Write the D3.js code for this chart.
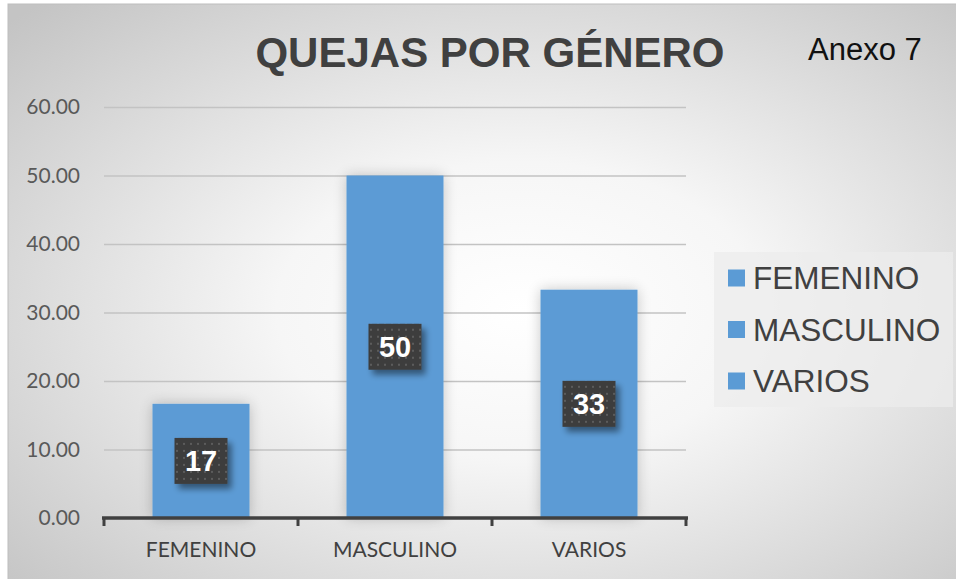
<!DOCTYPE html>
<html>
<head>
<meta charset="utf-8">
<script src="https://cdnjs.cloudflare.com/ajax/libs/d3/7.8.5/d3.min.js"></script>
<style>
  html, body { margin: 0; padding: 0; background: #fff; }
  .canvas { width: 956px; height: 579px; overflow: hidden; }
</style>
</head>
<body>
<div class="canvas"></div>
<script>
const categories = ['FEMENINO', 'MASCULINO', 'VARIOS']
const values = [16.67, 50, 33.33]
const valueLabels = ['17', '50', '33']
const yTicks = [0, 10, 20, 30, 40, 50, 60]
const chartTitle = 'QUEJAS POR GÉNERO'
const annexLabel = 'Anexo 7'

class BarChart {
  constructor(size) {
    this.size = size
    this.svg = d3.select('.canvas')
      .append('svg')
      .attr('width', size.width)
      .attr('height', size.height)

    this.makeDefs()
    this.makeBackground()
    this.setUpScales()
    this.drawGrid()
    this.drawBars()
    this.drawAxis()
    this.drawValueLabels()
    this.drawTitles()
    this.drawLegend()
  }

  makeDefs() {
    const defs = this.svg.append('defs')

    const bg = defs.append('radialGradient')
      .attr('id', 'bg')
      .attr('cx', '0.53').attr('cy', '0.52').attr('r', '0.72')
    bg.append('stop').attr('offset', '0').attr('stop-color', '#ffffff')
    bg.append('stop').attr('offset', '0.35').attr('stop-color', '#f6f6f6')
    bg.append('stop').attr('offset', '1').attr('stop-color', '#c4c4c4')

    const glow = defs.append('filter')
      .attr('id', 'glow')
      .attr('x', '-30%').attr('y', '-30%').attr('width', '160%').attr('height', '160%')
    glow.append('feGaussianBlur').attr('in', 'SourceAlpha').attr('stdDeviation', 7).attr('result', 'b')
    glow.append('feComponentTransfer').attr('in', 'b').attr('result', 'c')
      .append('feFuncA').attr('type', 'linear').attr('slope', 0.22)
    const glowMerge = glow.append('feMerge')
    glowMerge.append('feMergeNode').attr('in', 'c')
    glowMerge.append('feMergeNode').attr('in', 'SourceGraphic')

    const shadow = defs.append('filter')
      .attr('id', 'shadow')
      .attr('x', '-30%').attr('y', '-30%').attr('width', '170%').attr('height', '170%')
    shadow.append('feGaussianBlur').attr('in', 'SourceAlpha').attr('stdDeviation', 3).attr('result', 'b')
    shadow.append('feOffset').attr('in', 'b').attr('dx', 4).attr('dy', 5).attr('result', 'o')
    shadow.append('feComponentTransfer').attr('in', 'o').attr('result', 'c')
      .append('feFuncA').attr('type', 'linear').attr('slope', 0.45)
    const shadowMerge = shadow.append('feMerge')
    shadowMerge.append('feMergeNode').attr('in', 'c')
    shadowMerge.append('feMergeNode').attr('in', 'SourceGraphic')

    const dots = defs.append('pattern')
      .attr('id', 'dots')
      .attr('patternUnits', 'userSpaceOnUse')
      .attr('width', 7).attr('height', 7)
    dots.append('rect').attr('width', 7).attr('height', 7).attr('fill', '#3d3d3d')
    dots.append('rect').attr('x', 3).attr('y', 3).attr('width', 2).attr('height', 2).attr('fill', '#5c5c5c')
  }

  makeBackground() {
    this.svg.append('rect')
      .attr('x', 8).attr('y', 4)
      .attr('width', this.size.width + 10).attr('height', this.size.height + 10)
      .attr('fill', 'url(#bg)')
      .attr('stroke', '#bdbdbd')
      .attr('stroke-width', 1)
  }

  setUpScales() {
    this.x = d3.scaleBand()
      .domain(categories)
      .range([104, 686])
      .paddingInner(0.5)
      .paddingOuter(0.25)

    this.y = d3.scaleLinear()
      .domain([0, 60])
      .range([518, 107])
  }

  drawGrid() {
    const yAxis = d3.axisLeft(this.y)
      .tickValues(yTicks)
      .tickSize(-(686 - 104))
      .tickPadding(24)
      .tickFormat(d3.format('.2f'))

    const g = this.svg.append('g')
      .attr('transform', 'translate(104, 0)')
      .call(yAxis)

    g.select('.domain').remove()
    g.selectAll('.tick line')
      .attr('stroke', '#c3c3c3')
      .attr('stroke-width', 1.5)
    g.selectAll('.tick text')
      .attr('fill', '#595959')
      .style('font-family', 'Lato, sans-serif')
      .style('font-size', '21px')
  }

  drawBars() {
    this.svg.append('g')
      .selectAll('rect')
      .data(values)
      .join('rect')
      .attr('x', (d, i) => this.x(categories[i]))
      .attr('y', d => this.y(d))
      .attr('width', this.x.bandwidth())
      .attr('height', d => this.y(0) - this.y(d))
      .attr('fill', '#5b9bd5')
      .attr('filter', 'url(#glow)')
  }

  drawAxis() {
    const xAxis = d3.axisBottom(this.x)
      .tickSize(0)
      .tickPadding(24)

    const g = this.svg.append('g')
      .attr('transform', `translate(0, ${this.y(0)})`)
      .call(xAxis)

    g.select('.domain').remove()
    g.selectAll('.tick text')
      .attr('fill', '#404040')
      .style('font-family', 'Lato, sans-serif')
      .style('font-size', '21px')

    g.append('line')
      .attr('x1', 102).attr('x2', 688)
      .attr('y1', 0).attr('y2', 0)
      .attr('stroke', '#404040')
      .attr('stroke-width', 3.5)

    const step = this.x.step()
    const edges = d3.range(categories.length + 1).map(i => 104 + i * step)
    g.selectAll('.edge')
      .data(edges)
      .join('line')
      .attr('class', 'edge')
      .attr('x1', d => d).attr('x2', d => d)
      .attr('y1', 0).attr('y2', 8)
      .attr('stroke', '#404040')
      .attr('stroke-width', 3)
  }

  drawValueLabels() {
    const labels = this.svg.append('g')
      .selectAll('g')
      .data(values)
      .join('g')
      .attr('transform', (d, i) => {
        const cx = this.x(categories[i]) + this.x.bandwidth() / 2
        const cy = (this.y(d) + this.y(0)) / 2
        return `translate(${cx}, ${cy})`
      })

    labels.append('rect')
      .attr('x', -26.5).attr('y', -23)
      .attr('width', 53).attr('height', 46)
      .attr('fill', 'url(#dots)')
      .attr('filter', 'url(#shadow)')

    labels.append('text')
      .attr('text-anchor', 'middle')
      .attr('y', 10.5)
      .attr('fill', '#ffffff')
      .style('font-family', '"Liberation Sans", Arial, sans-serif')
      .style('font-weight', 'bold')
      .style('font-size', '29px')
      .text((d, i) => valueLabels[i])
  }

  drawTitles() {
    this.svg.append('text')
      .attr('x', 490).attr('y', 67)
      .attr('text-anchor', 'middle')
      .attr('fill', '#404040')
      .style('font-family', '"Liberation Sans", Arial, sans-serif')
      .style('font-weight', 'bold')
      .style('font-size', '42px')
      .text(chartTitle)

    this.svg.append('text')
      .attr('x', 808).attr('y', 60)
      .attr('fill', '#111111')
      .style('font-family', '"Liberation Sans", Arial, sans-serif')
      .style('font-size', '31px')
      .text(annexLabel)
  }

  drawLegend() {
    const legend = this.svg.append('g')
      .attr('transform', 'translate(714, 252)')

    legend.append('rect')
      .attr('width', 239).attr('height', 155)
      .attr('fill', '#ececec')
      .attr('opacity', 0.75)

    const rows = legend.selectAll('.row')
      .data(categories)
      .join('g')
      .attr('class', 'row')
      .attr('transform', (d, i) => `translate(14, ${26 + i * 51.5})`)

    rows.append('rect')
      .attr('x', 0).attr('y', -8.5)
      .attr('width', 17).attr('height', 17)
      .attr('fill', '#5b9bd5')

    rows.append('text')
      .attr('x', 25).attr('y', 11)
      .attr('fill', '#404040')
      .style('font-family', '"Liberation Sans", Arial, sans-serif')
      .style('font-size', '31.5px')
      .text(d => d)
  }
}

new BarChart({width: 956, height: 579})
</script>
</body>
</html>
